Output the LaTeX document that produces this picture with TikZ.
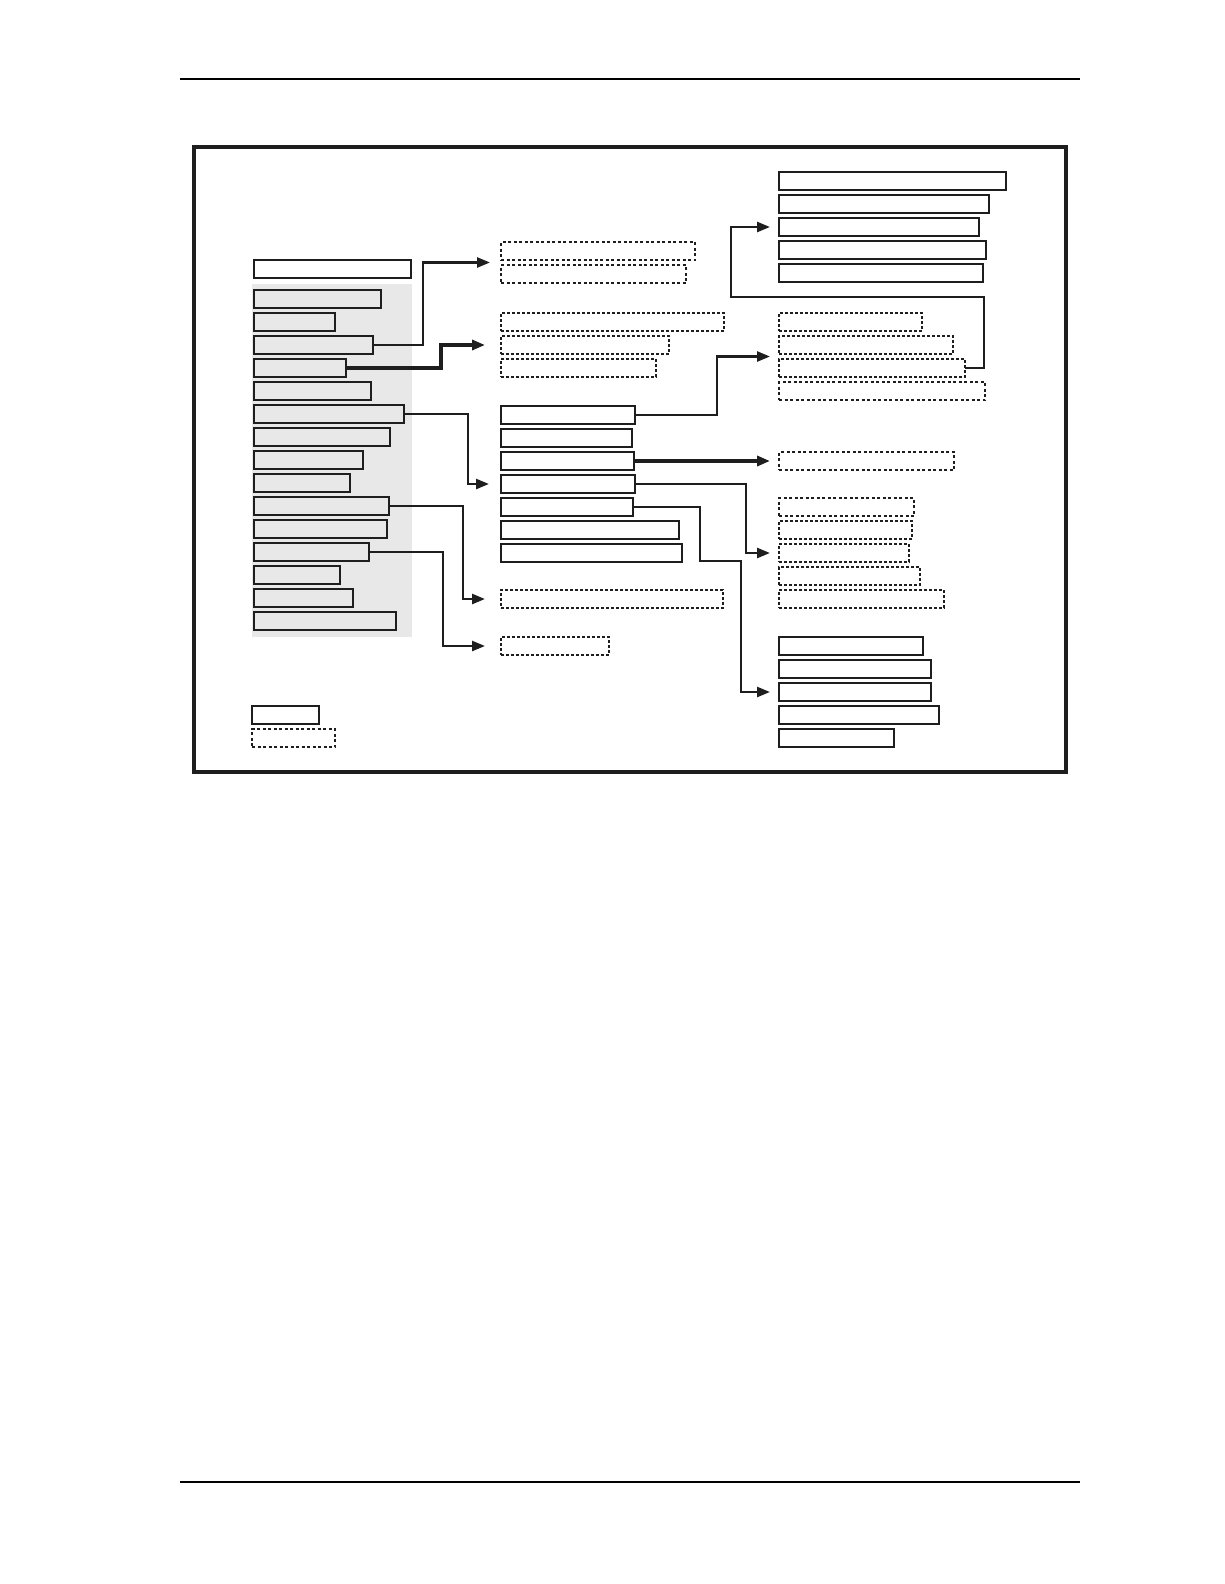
\documentclass[tikz,border=0pt]{standalone}
\usetikzlibrary{arrows.meta,calc}
\definecolor{ink}{HTML}{1E1E1E}
\definecolor{panel}{HTML}{E8E8E8}
\tikzset{
	bx/.style={draw=ink, anchor=north west, inner sep=0pt, outer sep=0pt, minimum height=18pt, line width=1.8pt},
	bxb/.style={bx, line width=2.6pt},
	lbox/.style={bx, fill=panel},
	lboxb/.style={bxb, fill=panel},
	dbox/.style={bx, line width=1.5pt, dash pattern=on 3pt off 2pt},
	dboxb/.style={bx, line width=2.4pt, dash pattern=on 3pt off 2.5pt},
	conn/.style={draw=ink, line width=2.5pt, -{Triangle[length=13pt,width=10pt]}},
}
\begin{document}
\begin{tikzpicture}[x=1pt, y=-1pt]
	\useasboundingbox[fill=white] (0,0) rectangle (1224,1584);
	\draw[line width=1.4pt] (180,79) -- (1080,79);
	\draw[line width=1.4pt] (180,1482) -- (1080,1482);
	\draw[draw=ink, line width=3.4pt] (194,147) rectangle (1066,772);
	\fill[panel] (252,284) rectangle (412,637);

	\node[bxb, fill=white, minimum width=157pt] (hd) at (254,260) {};
	\node[lbox, minimum width=127pt] (L1) at (254,290) {};
	\node[lboxb, minimum width=81pt] (L2) at (254,313) {};
	\node[lbox, minimum width=119pt] (L3) at (254,336) {};
	\node[lbox, minimum width=92pt] (L4) at (254,359) {};
	\node[lbox, minimum width=117pt] (L5) at (254,382) {};
	\node[lboxb, minimum width=150pt] (L6) at (254,405) {};
	\node[lboxb, minimum width=136pt] (L7) at (254,428) {};
	\node[lbox, minimum width=109pt] (L8) at (254,451) {};
	\node[lboxb, minimum width=96pt] (L9) at (254,474) {};
	\node[lbox, minimum width=135pt] (L10) at (254,497) {};
	\node[lbox, minimum width=133pt] (L11) at (254,520) {};
	\node[lbox, minimum width=115pt] (L12) at (254,543) {};
	\node[lbox, minimum width=86pt] (L13) at (254,566) {};
	\node[lboxb, minimum width=99pt] (L14) at (254,589) {};
	\node[lboxb, minimum width=142pt] (L15) at (254,612) {};

	\node[dboxb, minimum width=194pt] (A1) at (501,242) {};
	\node[dboxb, minimum width=185pt] (A2) at (501,265) {};
	\node[dbox, minimum width=223pt] (B1) at (501,313) {};
	\node[dbox, minimum width=168pt] (B2) at (501,336) {};
	\node[dbox, minimum width=155pt] (B3) at (501,359) {};
	\node[bxb, minimum width=134pt] (C1) at (501,406) {};
	\node[bxb, minimum width=131pt] (C2) at (501,429) {};
	\node[bxb, minimum width=133pt] (C3) at (501,452) {};
	\node[bx, minimum width=134pt] (C4) at (501,475) {};
	\node[bx, minimum width=132pt] (C5) at (501,498) {};
	\node[bx, minimum width=178pt] (C6) at (501,521) {};
	\node[bx, minimum width=181pt] (C7) at (501,544) {};
	\node[dbox, minimum width=222pt] (D) at (501,590) {};
	\node[dbox, minimum width=108pt] (E) at (501,637) {};

	\node[bxb, minimum width=227pt] (R1) at (779,172) {};
	\node[bxb, minimum width=210pt] (R2) at (779,195) {};
	\node[bxb, minimum width=200pt] (R3) at (779,218) {};
	\node[bxb, minimum width=207pt] (R4) at (779,241) {};
	\node[bxb, minimum width=204pt] (R5) at (779,264) {};
	\node[dbox, minimum width=143pt] (S1) at (779,313) {};
	\node[dbox, minimum width=174pt] (S2) at (779,336) {};
	\node[dbox, minimum width=186pt] (S3) at (779,359) {};
	\node[dboxb, minimum width=206pt] (S4) at (779,382) {};
	\node[dboxb, minimum width=175pt] (T) at (779,452) {};
	\node[dboxb, minimum width=135pt] (U1) at (779,498) {};
	\node[dbox, minimum width=133pt] (U2) at (779,521) {};
	\node[dbox, minimum width=130pt] (U3) at (779,544) {};
	\node[dbox, minimum width=141pt] (U4) at (779,567) {};
	\node[dbox, minimum width=165pt] (U5) at (779,590) {};
	\node[bx, minimum width=144pt] (V1) at (779,637) {};
	\node[bxb, minimum width=152pt] (V2) at (779,660) {};
	\node[bxb, minimum width=152pt] (V3) at (779,683) {};
	\node[bxb, minimum width=160pt] (V4) at (779,706) {};
	\node[bx, minimum width=115pt] (V5) at (779,729) {};

	\node[bxb, minimum width=67pt] (key1) at (252,706) {};
	\node[dboxb, minimum width=83pt] (key2) at (252,729) {};

	\coordinate (lp) at (731,297);
	\coordinate (bend) at (741,561);
	\draw[conn] (L3.east) -- ++(50,0) |- ($(A1.south west)!0.5!(A2.north west)+(-11,0)$);
	\draw[conn, line width=3.4pt] (L4.east) -- ++(95,0) |- ([xshift=-16pt]B2.west);
	\draw[conn] (L6.east) -- ++(64,0) |- ([xshift=-12pt]C4.west);
	\draw[conn] (L10.east) -- ++(74,0) |- ([xshift=-16pt]D.west);
	\draw[conn] (L12.east) -- ++(74,0) |- ([xshift=-16pt]E.west);
	\draw[conn] (C1.east) -- ++(82,0) |- ($(S2.south west)!0.5!(S3.north west)+(-9,0)$);
	\draw[conn] (S3.east) -- ++(19,0) |- (lp) |- ([xshift=-9pt]R3.west);
	\draw[conn, line width=3.4pt] (C3.east) -- ([xshift=-9pt]T.west);
	\draw[conn] (C4.east) -- ++(111,0) |- ([xshift=-9pt]U3.west);
	\draw[conn] (C5.east) -- ++(67,0) |- (bend) |- ([xshift=-9pt]V3.west);
\end{tikzpicture}
\end{document}
